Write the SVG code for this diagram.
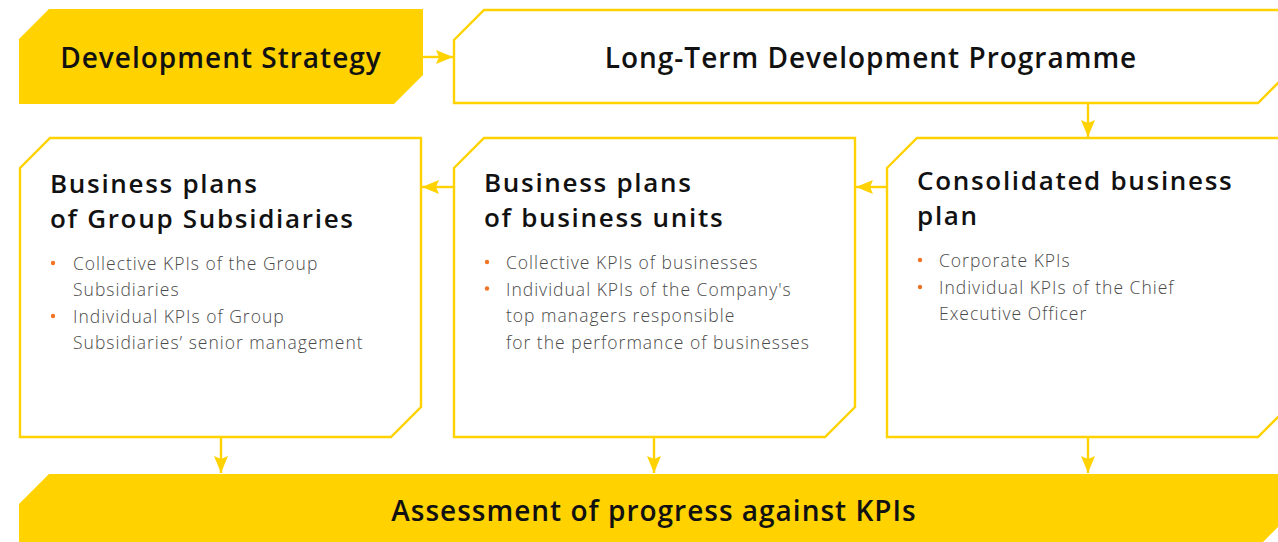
<svg xmlns="http://www.w3.org/2000/svg" width="1278" height="542" viewBox="0 0 1278 542">
  <defs>
    <marker id="ah" markerUnits="userSpaceOnUse" markerWidth="17" markerHeight="14" refX="17" refY="7" orient="auto">
      <path d="M0,0 L17,7 L0,14 L3,7 Z" fill="#FFD200"/>
    </marker>
  </defs>
  <style>
    .fill { fill: #FFD200; stroke: none; }
    .box { fill: #FFFFFF; stroke: #FFD200; stroke-width: 2.4; }
    .title { font-family: "Open Sans", "Liberation Sans", sans-serif; font-size: 28px; font-weight: 600; letter-spacing: 1px; fill: #111111; }
    .head { font-family: "Open Sans", "Liberation Sans", sans-serif; font-size: 26px; font-weight: 600; letter-spacing: 1.7px; fill: #111111; }
    .body { font-family: "Open Sans", "Liberation Sans", sans-serif; font-size: 17.5px; font-weight: 300; letter-spacing: 1px; fill: #4A4A4A; }
    .dot { fill: #F07424; }
    .conn { stroke: #FFD200; stroke-width: 2.4; fill: none; marker-end: url(#ah); }
  </style>

  <rect width="1278" height="542" fill="#FFFFFF"/>

  <g id="node-development-strategy">
    <path class="fill" d="M19,39 L49,9 L423,9 L423,75 L394,104 L19,104 Z"/>
    <text class="title" x="221" y="68" text-anchor="middle">Development Strategy</text>
  </g>

  <g id="node-long-term-programme">
    <path class="box" d="M454,40 L484,10 L1288,10 L1288,73 L1258,103 L454,103 Z"/>
    <text class="title" x="871" y="68" text-anchor="middle">Long-Term Development Programme</text>
  </g>

  <g id="node-group-subsidiaries">
    <path class="box" d="M20,168 L50,138 L421,138 L421,407 L391,437 L20,437 Z"/>
    <text class="head" x="50" y="193">Business plans</text>
    <text class="head" x="50" y="228">of Group Subsidiaries</text>
    <circle class="dot" cx="53" cy="263" r="2.2"/>
    <text class="body" x="73" y="270">Collective KPIs of the Group</text>
    <text class="body" x="73" y="296">Subsidiaries</text>
    <circle class="dot" cx="53" cy="316" r="2.2"/>
    <text class="body" x="73" y="322.5">Individual KPIs of Group</text>
    <text class="body" x="73" y="349">Subsidiaries’ senior management</text>
  </g>

  <g id="node-business-units">
    <path class="box" d="M454,168 L484,138 L855,138 L855,407 L825,437 L454,437 Z"/>
    <text class="head" x="484" y="192">Business plans</text>
    <text class="head" x="484" y="227">of business units</text>
    <circle class="dot" cx="487" cy="262" r="2.2"/>
    <text class="body" x="506" y="269">Collective KPIs of businesses</text>
    <circle class="dot" cx="487" cy="288.5" r="2.2"/>
    <text class="body" x="506" y="295.5">Individual KPIs of the Company's</text>
    <text class="body" x="506" y="322">top managers responsible</text>
    <text class="body" x="506" y="348.5">for the performance of businesses</text>
  </g>

  <g id="node-consolidated">
    <path class="box" d="M887,168 L917,138 L1288,138 L1288,407 L1258,437 L887,437 Z"/>
    <text class="head" x="917" y="190">Consolidated business</text>
    <text class="head" x="917" y="225">plan</text>
    <circle class="dot" cx="920" cy="260" r="2.2"/>
    <text class="body" x="939" y="267">Corporate KPIs</text>
    <circle class="dot" cx="920" cy="287" r="2.2"/>
    <text class="body" x="939" y="293.5">Individual KPIs of the Chief</text>
    <text class="body" x="939" y="320">Executive Officer</text>
  </g>

  <g id="node-assessment">
    <path class="fill" d="M19,504 L49,474 L1288,474 L1288,517 L1258,547 L19,547 Z"/>
    <text class="title" x="654" y="521" text-anchor="middle">Assessment of progress against KPIs</text>
  </g>

  <g id="connectors">
    <line class="conn" x1="423" y1="57" x2="453" y2="57"/>
    <line class="conn" x1="1088" y1="104" x2="1088" y2="137"/>
    <line class="conn" x1="886" y1="187" x2="856" y2="187"/>
    <line class="conn" x1="453" y1="187" x2="422" y2="187"/>
    <line class="conn" x1="221" y1="438" x2="221" y2="473"/>
    <line class="conn" x1="654" y1="438" x2="654" y2="473"/>
    <line class="conn" x1="1088" y1="438" x2="1088" y2="473"/>
  </g>
</svg>
